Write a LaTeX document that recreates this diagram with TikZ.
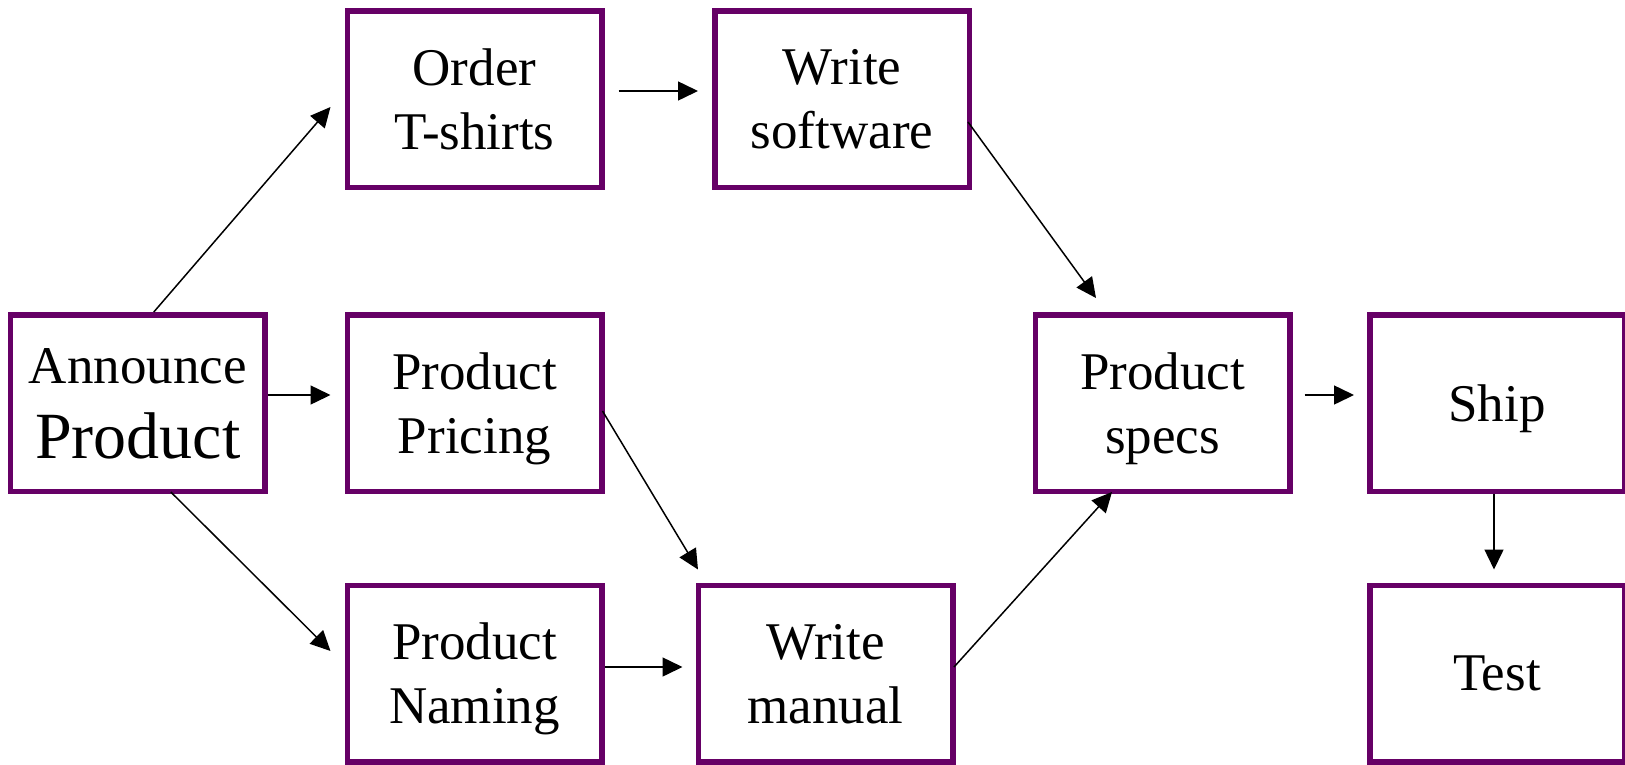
\documentclass[tikz,border=0pt]{standalone}
\usepackage{fontspec}
\setmainfont{Liberation Serif}
\usetikzlibrary{arrows.meta,calc}
\definecolor{boxpurple}{RGB}{102,0,102}
\begin{document}
\begin{tikzpicture}[x=1pt,y=-1pt,
  box/.style={draw=boxpurple, fill=white, line width=5.5pt, minimum width=254.5pt, minimum height=176.5pt,
    inner sep=0pt, align=center, font=\fontsize{53}{64}\selectfont, text depth=0pt},
  arr/.style={line width=1.5pt, -{Triangle[length=20pt,width=19pt]}}]
\useasboundingbox (0,0) rectangle (1625,764);
\node[box] (ann) at (137.8,403) {Announce\\[11pt]{\fontsize{66}{75}\selectfont Product}};
\node[box] (ord) at (474.5,99) {Order\\T-shirts};
\node[box] (sw) at (842,99) {Write\\software};
\node[box] (pri) at (474.5,403) {Product\\Pricing};
\node[box] (spec) at (1162.5,403) {Product\\specs};
\node[box] (ship) at (1497,403) {Ship};
\node[box] (nam) at (474.5,673.5) {Product\\Naming};
\node[box] (wm) at (825.5,673.5) {Write\\manual};
\node[box] (test) at (1497,673.5) {Test};
\draw[arr] ($(ann.north)+(16,0)$) -- ($(ord.west)+(-14,8)$);
\draw[arr] ($(ord.east)+(14,-8)$) -- ($(sw.west)+(-14,-8)$);
\draw[arr] ($(sw.east)+(-4,23)$) -- ($(spec.north)+(-66.5,-14)$);
\draw[arr] ($(ann.east)+(0,-8)$) -- ($(pri.west)+(-14,-8)$);
\draw[arr] ($(ann.south)+(33,-2)$) -- ($(nam.west)+(-14,-22.5)$);
\draw[arr] ($(pri.east)+(-2,8)$) -- ($(wm.north west)+(2.5,-13)$);
\draw[arr] ($(nam.east)+(0,-6.5)$) -- ($(wm.west)+(-13,-6.5)$);
\draw[arr] ($(wm.east)+(-1.5,-6.5)$) -- ($(spec.south)+(-50.5,-2)$);
\draw[arr] ($(spec.east)+(12,-8)$) -- ($(ship.west)+(-13,-8)$);
\draw[arr] ($(ship.south)+(-3,0)$) -- ($(test.north)+(-3,-13)$);
\end{tikzpicture}
\end{document}
